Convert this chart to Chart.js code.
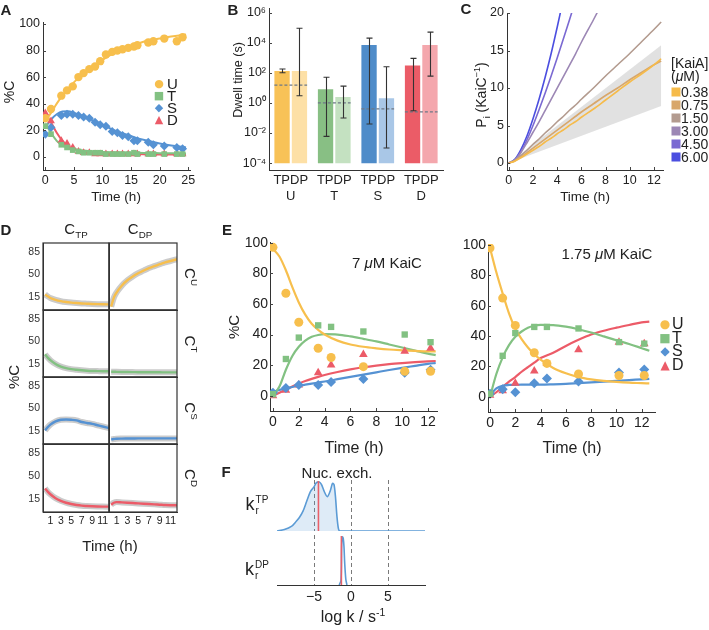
<!DOCTYPE html>
<html>
<head>
<meta charset="utf-8">
<script src="https://cdn.jsdelivr.net/npm/chart.js@4.4.1/dist/chart.umd.min.js"></script>
<style>
body { margin: 0; background: #fff; }
#fig { position: relative; width: 709px; height: 630px; overflow: hidden; font-family: 'Liberation Sans', Arial, sans-serif; color: #222; }
#fig canvas { position: absolute; }
.t { position: absolute; white-space: nowrap; transform: translate(-50%, -50%); line-height: 1; }
.l { position: absolute; white-space: nowrap; transform: translate(0, -50%); line-height: 1; }
.rot { transform: translate(-50%, -50%) rotate(-90deg); }
.rot90 { transform: translate(-50%, -50%) rotate(90deg); }
.pl { font-weight: bold; font-size: 15px; }
sup, sub { font-size: 65%; line-height: 0; }
.ss { display: inline-block; vertical-align: middle; font-size: 10px; line-height: 1.05; margin-left: 1px; }
.ss span { display: block; }
.g { font-family: 'DejaVu Sans', sans-serif; }
</style>
</head>
<body>
<div id="fig"></div>
<script>
// ---------- Panel A: time course (%C) ----------
var timeA = [0, 1, 2.8, 3.8, 4.8, 5.8, 6.7, 7.7, 8.7, 9.6, 10.6, 11.7, 12.6, 13.5, 14.5, 15.5, 16.1, 18, 18.9, 20.8, 23, 24];
var uA = [29, 36, 46, 50, 53, 60, 63, 66, 68, 72, 77, 79, 80, 81, 82, 83, 84, 86, 87, 89, 87, 90];
var tA = [23, 17, 9, 7, 5, 4, 3, 3, 3, 3, 2, 2, 2, 2, 2, 3, 2, 2, 2, 2, 2, 2];
var sA = [17, 22, 31, 32, 32, 31, 30, 29, 26, 24, 23, 19, 18, 16, 15, 12, 12, 11, 9, 8, 7, 6];
var dA = [33, 27, 12, 10, 7, 4, 3, 3, 2, 2, 2, 2, 2, 2, 2, 2, 2, 2, 2, 2, 2, 2];
var fitTimeA = [0, 1, 2, 3, 4, 5, 6, 8, 10, 12, 14, 16, 18, 20, 22, 24.6];
var uFitA = [27, 33, 40, 46, 51, 56, 60, 67, 73, 78, 82, 85, 87.5, 89, 90.5, 92];
var tFitA = [25, 18, 12, 8.5, 6.5, 5.5, 5, 4, 3.5, 3.2, 3, 3, 2.8, 2.7, 2.6, 2.5];
var sFitA = [22, 28, 32, 34, 34.3, 33, 31.5, 28, 24, 20, 17, 14, 12, 10, 8.5, 7];
var dFitA = [33, 26, 18, 12, 8, 6, 4.5, 3, 2.3, 2.1, 2, 2, 1.8, 1.7, 1.6, 1.5];
var xTicksA = [0, 5, 10, 15, 20, 25];
var yTicksA = [0, 20, 40, 60, 80, 100];

// ---------- Panel B: dwell times ----------
var dwellGroups = ['U', 'T', 'S', 'D'];
var dwellTP = [130, 8, 7000, 300];
var dwellDP = [130, 2.5, 2, 7000];
var dwellTPlo = [100, 0.006, 0.04, 0.3];
var dwellTPhi = [180, 50, 20000, 900];
var dwellDPlo = [3, 0.1, 0.001, 60];
var dwellDPhi = [90000, 13, 250, 50000];
var dwellRef = [15, 1, 0.4, 0.25];
var dwellFloor = 1e-4;
var yTicksB = [1e-4, 1e-2, 1, 1e2, 1e4, 1e6];

// ---------- Panel C: Pi release vs KaiA ----------
var kaiALabels = ['0.38', '0.75', '1.50', '3.00', '4.50', '6.00'];
var piTime = [0, 0.5, 1, 1.5, 2, 2.5, 3, 3.5, 4, 4.5, 5, 5.5, 6, 7, 8, 9, 10, 11, 12, 12.6];
var pi038 = [0, 0.25, 0.7, 1.2, 1.7, 2.2, 2.8, 3.3, 3.9, 4.4, 5, 5.5, 6.1, 7.2, 8.4, 9.6, 10.8, 11.9, 13.1, 13.9];
var pi075 = [0, 0.3, 0.8, 1.4, 2, 2.6, 3.2, 3.8, 4.4, 5, 5.6, 6.2, 6.8, 7.9, 9, 10, 11.1, 12.1, 13.1, 13.6];
var pi150 = [0, 0.35, 1, 1.7, 2.5, 3.2, 4, 4.7, 5.5, 6.2, 7, 7.7, 8.5, 10, 11.6, 13.1, 14.6, 16.2, 17.8, 18.8];
var pi300 = [0, 0.4, 1.4, 2.7, 4.1, 5.5, 7, 8.5, 10, 11.5, 13, 14.5, 16.1, 19.1, 22.2, null, null, null, null, null];
var pi450 = [0, 0.4, 1.5, 3.1, 5, 7.1, 9.3, 11.6, 14, 16.5, 19, 21.6, null, null, null, null, null, null, null, null];
var pi600 = [0, 0.5, 1.8, 3.6, 5.9, 8.5, 11.4, 14.6, 18.1, 21.8, null, null, null, null, null, null, null, null, null, null];
var bandTime = [0, 12.6];
var bandHi = [0, 15.7];
var bandLo = [0, 7.6];
var xTicksC = [0, 2, 4, 6, 8, 10, 12];
var yTicksC = [0, 5, 10, 15, 20];

// ---------- Panel D: posterior trajectories per state ----------
var timeD = [0, 0.5, 1, 2, 3, 4, 5, 6, 7, 8, 9, 10, 11, 12.3];
var uTPD = [19, 16, 13.5, 10.5, 8.5, 7.2, 6.3, 5.6, 5, 4.6, 4.2, 3.9, 3.7, 3.5];
var uDPD = [0, 14, 22, 33, 41, 47, 52, 56, 60, 63, 66, 69, 71, 74];
var tTPD = [30, 25, 21, 15, 11, 8.5, 7, 6, 5.2, 4.6, 4.2, 4, 3.8, 3.6];
var tDPD = [3, 3, 2.8, 2.6, 2.5, 2.4, 2.3, 2.2, 2.2, 2.1, 2.1, 2, 2, 2];
var sTPD = [16, 21, 25, 30, 32.5, 33, 32.5, 31.5, 29, 27.5, 26, 24, 22, 19.5];
var sDPD = [2, 2.5, 3, 3.2, 3.3, 3.4, 3.5, 3.5, 3.5, 3.5, 3.5, 3.5, 3.5, 3.5];
var dTPD = [31, 26, 22, 16, 12, 9, 7, 5.5, 4.5, 4, 3.6, 3.3, 3.1, 3];
var dDPD = [6, 9, 10, 9.5, 9, 8.5, 8, 7.5, 7, 6.5, 6, 5.5, 5.2, 5];
var xTicksD = [1, 3, 5, 7, 9, 11];
var yTicksD = [15, 50, 85];

// ---------- Panel E: KaiC concentration ----------
var timeE = [0, 1, 2, 3.5, 4.5, 7, 10.2, 12.2];
var u7 = [97, 67, 48, 31, 25, 19, 16, 16];
var t7 = [1, 24, 38, 46, 45, 42, 40, 35];
var s7 = [2, 5, 7, 7, 9, 11, 15, 17];
var d7 = [0, 3.5, 7, 15, 20, 27, 29, 31];
var u175 = [98, 65, 47, 29, 22, 15, 14, 14];
var t175 = [2, 27, 42, 46, 46, 45, 36, 35];
var s175 = [2, 5, 3, 9, 12, 10, 16, 18];
var d175 = [1, 4, 9, 17, 22, 31, 36, 35];
var fitTimeE = [0, 0.5, 1, 1.5, 2, 2.5, 3, 3.5, 4, 5, 6, 7, 8, 9, 10, 11, 12, 12.6];
var uFit7 = [96, 91, 82, 71, 61, 53, 47, 43, 40, 36, 33.5, 32, 31, 30.2, 29.7, 29.3, 29, 29];
var tFit7 = [0, 6, 17, 26, 32, 36, 38.5, 39.7, 40.2, 40, 38.8, 37.2, 35.5, 33.5, 31.5, 29.5, 27.5, 26.5];
var sFit7 = [2.5, 3.8, 4.8, 5.7, 6.5, 7.2, 7.9, 8.6, 9.3, 10.8, 12.3, 13.8, 15.3, 16.8, 18.2, 19.5, 20.8, 21.4];
var dFit7 = [0, 2, 4, 6, 8, 9.6, 11, 12.3, 13.5, 15.5, 17.2, 18.6, 19.7, 20.6, 21.3, 21.9, 22.4, 22.7];
var uFit175 = [98, 82, 68, 55, 45, 38, 32.5, 28, 24.5, 19, 15.5, 13, 11.5, 10.5, 9.8, 9.3, 9, 8.8];
var tFit175 = [0, 15, 26, 34, 39.5, 43, 45.5, 46.8, 47.3, 47.2, 46.2, 44.5, 42.3, 39.8, 37.2, 34.8, 32, 30.3];
var sFit175 = [1, 5.5, 7.3, 7.8, 7.9, 8, 8, 8, 8, 8.2, 8.5, 9, 9.5, 10, 10.5, 11, 11.5, 11.8];
var dFit175 = [0, 3, 6.5, 10, 13, 16.5, 19.5, 22.5, 25.5, 29, 33.5, 37.5, 41, 43.5, 45.5, 47.3, 49, 49.5];
var xTicksE = [0, 2, 4, 6, 8, 10, 12];
var yTicksE = [0, 20, 40, 60, 80, 100];

// ---------- Panel F: rate posteriors ----------
var logkTP = [-10, -9, -8, -7.5, -7, -6.5, -6, -5.5, -5, -4.7, -4.3, -4, -3.6, -3.2, -2.8, -2.5, -2.3, -2.1, -1.9, -1.7, -1.5, 10];
var densTP = [0, 0.03, 0.1, 0.18, 0.27, 0.4, 0.6, 0.8, 0.9, 0.98, 1, 0.95, 0.8, 0.7, 0.82, 0.97, 0.95, 0.7, 0.3, 0.05, 0, 0];
var logkDP = [-1.6, -1.35, -1.25, -1.15, -1.05, -0.95, -0.85, -0.7, -0.55];
var densDP = [0, 0.1, 0.85, 1, 0.97, 0.8, 0.45, 0.12, 0];
var bestTP = -4.4;
var bestDP = -1.3;
var guideLogk = [-5, 0, 5];
var xTicksF = [-5, 0, 5];

var COL = { U: '#f7bf4d', T: '#82c182', S: '#5592d3', D: '#ec5b68' };

Chart.defaults.font.family = "'Liberation Sans', Arial, sans-serif";
Chart.defaults.color = '#222';

// small inward tick marks, Mathematica style
Chart.register({
    id: 'inTicks',
    defaults: { len: 0 },
    afterDraw: function (chart, args, opts) {
        if (!opts.len) return;
        var ctx = chart.ctx;
        ctx.save();
        ctx.strokeStyle = '#444';
        ctx.lineWidth = 1;
        ['x', 'y'].forEach(function (id) {
            var s = chart.scales[id];
            if (!s || !s.options.display || s.type === 'category') return;
            s.ticks.forEach(function (t) {
                var p = Math.round(s.getPixelForValue(t.value)) + 0.5;
                ctx.beginPath();
                if (s.isHorizontal()) { ctx.moveTo(p, s.top); ctx.lineTo(p, s.top - opts.len); }
                else { ctx.moveTo(s.right, p); ctx.lineTo(s.right + opts.len, p); }
                ctx.stroke();
            });
        });
        ctx.restore();
    }
});

var fig = document.getElementById('fig');

function canvasAt(left, top, w, h) {
    var c = document.createElement('canvas');
    c.width = w; c.height = h;
    c.style.left = left + 'px'; c.style.top = top + 'px';
    c.style.width = w + 'px'; c.style.height = h + 'px';
    fig.appendChild(c);
    return c;
}

function text(html, x, y, cls, css) {
    var d = document.createElement('div');
    d.className = cls || 't';
    d.innerHTML = html;
    d.style.left = x + 'px';
    d.style.top = y + 'px';
    if (css) d.style.cssText += css;
    fig.appendChild(d);
}

function xy(xs, ys) {
    return xs.map(function (x, i) { return { x: x, y: ys[i] }; });
}

function axis(min, max, ticks, size, o) {
    o = o || {};
    var a = {
        type: o.type || 'linear', min: min, max: max,
        afterBuildTicks: function (s) { s.ticks = ticks.map(function (v) { return { value: v }; }); },
        afterFit: function (s) { if (s.isHorizontal()) s.height = size; else s.width = size; },
        grid: { display: false, drawTicks: false },
        border: { color: '#333', width: 1 },
        ticks: { font: { size: o.font || 14 }, padding: o.pad || 3, color: o.color || '#222', autoSkip: false, maxRotation: 0 }
    };
    if (o.cb) a.ticks.callback = o.cb;
    return a;
}

function opts(padding, scales, tickLen) {
    return {
        responsive: false, animation: false, devicePixelRatio: 1,
        layout: { padding: padding },
        plugins: { legend: { display: false }, tooltip: { enabled: false }, inTicks: { len: tickLen || 0 } },
        scales: scales
    };
}

function pts(xs, ys, color, style, r) {
    return { data: xy(xs, ys), showLine: false, pointStyle: style, pointRadius: r || 4, pointBorderWidth: 0,
        backgroundColor: color, borderColor: color, order: 0 };
}

function fit(xs, ys, color, w) {
    return { data: xy(xs, ys), borderColor: color, borderWidth: w || 2, pointRadius: 0, fill: false,
        cubicInterpolationMode: 'monotone', order: 1 };
}

// ================= A =================
new Chart(canvasAt(0, 0, 200, 205), {
    type: 'line',
    data: { datasets: [
        pts(timeA, uA, COL.U, 'circle', 4.2), pts(timeA, tA, COL.T, 'rect', 4), pts(timeA, sA, COL.S, 'rectRot', 4.5), pts(timeA, dA, COL.D, 'triangle', 4.5),
        fit(fitTimeA, uFitA, COL.U), fit(fitTimeA, tFitA, COL.T), fit(fitTimeA, sFitA, COL.S), fit(fitTimeA, dFitA, COL.D)
    ] },
    options: opts({ top: 22, right: 10, left: 0, bottom: 0 }, {
        x: axis(-0.4, 25.3, xTicksA, 35, { font: 12.5 }),
        y: axis(-10, 101.5, yTicksA, 43, { font: 12.5 })
    }, 3)
});
text('A', 6, 9, 't pl');
text('%C', 9, 92, 't rot', 'font-size:14px');
text('Time (h)', 116, 197, 't', 'font-size:13.5px');
var legA = [['●', COL.U, 'U'], ['■', COL.T, 'T'], ['◆', COL.S, 'S'], ['▲', COL.D, 'D']];
legA.forEach(function (r, i) {
    text(r[0], 159, 83 + i * 12, 't g', 'font-size:11px;color:' + r[1]);
    text(r[2], 167, 83 + i * 12, 'l', 'font-size:15px');
});

// ================= B =================
var supMap = { '-': '\u207B', '0': '\u2070', '1': '\u00B9', '2': '\u00B2', '3': '\u00B3', '4': '\u2074', '6': '\u2076' };
function supNum(n) { return String(n).split('').map(function (ch) { return supMap[ch]; }).join(''); }

new Chart(canvasAt(230, -10, 230, 215), {
    type: 'bar',
    data: {
        labels: dwellGroups,
        datasets: [
            { data: dwellTP.map(function (v) { return [dwellFloor, v]; }), backgroundColor: ['#f8c257', '#88bf84', '#4f8cc9', '#eb5c67'],
              categoryPercentage: 0.8, barPercentage: 0.88, borderSkipped: false },
            { data: dwellDP.map(function (v) { return [dwellFloor, v]; }), backgroundColor: ['#fde0a6', '#c4e1c1', '#a9c7e7', '#f4a7ad'],
              categoryPercentage: 0.8, barPercentage: 0.88, borderSkipped: false }
        ]
    },
    options: opts({ top: 18, right: 17, left: 0, bottom: 0 }, {
        x: {
            type: 'category',
            afterFit: function (s) { s.height = 35; },
            grid: { display: false, drawTicks: false },
            border: { color: '#333', width: 1 },
            ticks: { font: { size: 13 }, padding: 3, color: '#222', autoSkip: false, maxRotation: 0,
                callback: function (v, i) { return ['TPDP', dwellGroups[i]]; } }
        },
        y: axis(3.5e-5, 2e6, yTicksB, 39, { type: 'logarithmic', font: 12.5, cb: function (v) { return '10' + supNum(Math.round(Math.log10(v))); } })
    }, 3),
    plugins: [{
        id: 'dwellMarks',
        afterDatasetsDraw: function (chart) {
            var ctx = chart.ctx, y = chart.scales.y;
            var m0 = chart.getDatasetMeta(0).data, m1 = chart.getDatasetMeta(1).data;
            ctx.save();
            ctx.strokeStyle = '#6d7886';
            ctx.lineWidth = 1.2;
            ctx.setLineDash([3, 2]);
            dwellRef.forEach(function (v, i) {
                var yy = y.getPixelForValue(v);
                ctx.beginPath();
                ctx.moveTo(m0[i].x - m0[i].width / 2, yy);
                ctx.lineTo(m1[i].x + m1[i].width / 2, yy);
                ctx.stroke();
            });
            ctx.setLineDash([]);
            ctx.strokeStyle = '#333';
            ctx.lineWidth = 1.1;
            function whisker(el, lo, hi) {
                var x = Math.round(el.x) + 0.5, a = y.getPixelForValue(lo), b = y.getPixelForValue(hi);
                ctx.beginPath();
                ctx.moveTo(x, a); ctx.lineTo(x, b);
                ctx.moveTo(x - 3, a); ctx.lineTo(x + 3, a);
                ctx.moveTo(x - 3, b); ctx.lineTo(x + 3, b);
                ctx.stroke();
            }
            for (var i = 0; i < dwellGroups.length; i++) {
                whisker(m0[i], dwellTPlo[i], dwellTPhi[i]);
                whisker(m1[i], dwellDPlo[i], dwellDPhi[i]);
            }
            ctx.restore();
        }
    }]
});
text('B', 233, 9, 't pl');
text('Dwell time (s)', 238, 80, 't rot', 'font-size:12.5px');

// ================= C =================
var kaiAColors = ['#f6bb4a', '#d8a76b', '#b39b8f', '#9c87b5', '#7a69d2', '#4b4ee0'];
var piSeries = [pi038, pi075, pi150, pi300, pi450, pi600];
var cSets = [
    { data: xy(bandTime, bandHi), borderWidth: 0, pointRadius: 0, fill: '+1', backgroundColor: 'rgba(200,200,200,0.55)', order: 5 },
    { data: xy(bandTime, bandLo), borderWidth: 0, pointRadius: 0, fill: false, order: 5 }
];
piSeries.forEach(function (s, i) {
    cSets.push({ data: xy(piTime, s), borderColor: kaiAColors[i], borderWidth: 1.6, pointRadius: 0, fill: false,
        cubicInterpolationMode: 'monotone', spanGaps: false, order: 1 });
});
new Chart(canvasAt(460, 0, 249, 205), {
    type: 'line',
    data: { datasets: cSets },
    options: opts({ top: 13, right: 46, left: 0, bottom: 0 }, {
        x: axis(-0.15, 12.75, xTicksC, 35, { font: 12.5 }),
        y: axis(-0.93, 20, yTicksC, 47, { font: 12.5 })
    }, 3)
});
text('C', 466, 8, 't pl');
text('P<sub>i</sub> (KaiC<sup>\u22121</sup>)', 481, 95, 't rot', 'font-size:14px');
text('Time (h)', 585, 197, 't', 'font-size:13.5px');
text('[KaiA]', 671, 63, 'l', 'font-size:14px');
text('(<i>\u03bc</i>M)', 671, 76, 'l', 'font-size:14px');
kaiALabels.forEach(function (lab, i) {
    var yy = 92 + i * 13;
    text('', 676, yy, 't', 'width:9px;height:9px;background:' + kaiAColors[i]);
    text(lab, 681, yy, 'l', 'font-size:14px');
});

// ================= D =================
var colL = [43, 109], colR = [109, 177];
var rowT = [243, 310, 377, 444], rowB = [310, 377, 444, 512];
var dRows = [[uTPD, uDPD, COL.U], [tTPD, tDPD, COL.T], [sTPD, sDPD, COL.S], [dTPD, dDPD, COL.D]];
var rowNames = ['U', 'T', 'S', 'D'];
var boxPlugin = {
    id: 'box',
    afterDraw: function (chart) {
        var a = chart.chartArea, ctx = chart.ctx;
        ctx.save();
        ctx.strokeStyle = '#333';
        ctx.lineWidth = 1.2;
        ctx.strokeRect(a.left, a.top, a.right - a.left, a.bottom - a.top);
        ctx.restore();
    }
};
dRows.forEach(function (row, r) {
    [0, 1].forEach(function (c) {
        var w = colR[c] - colL[c];
        var h = rowB[r] - rowT[r];
        var showY = c === 0, showX = r === 3;
        new Chart(canvasAt(colL[c] - 30, rowT[r] - 10, w + 33, h + 28), {
            type: 'line',
            data: { datasets: [
                { data: xy(timeD, row[c]), borderColor: row[2], borderWidth: 2.4, pointRadius: 0, fill: false, cubicInterpolationMode: 'monotone', order: 0 },
                { data: xy(timeD, row[c]), borderColor: 'rgba(140,140,140,0.45)', borderWidth: 6, pointRadius: 0, fill: false, cubicInterpolationMode: 'monotone', order: 1 }
            ] },
            options: opts({ top: 10, right: 3, left: 0, bottom: 0 }, {
                x: axis(-0.4, 12.2, xTicksD, 18, { font: 10.5, color: showX ? '#222' : 'rgba(0,0,0,0)', pad: 3 }),
                y: axis(-5.2, 99, yTicksD, 30, { font: 10.5, color: showY ? '#333' : 'rgba(0,0,0,0)', pad: 3 })
            }, 0),
            plugins: [boxPlugin]
        });
    });
    text('C<sup>' + rowNames[r] + '</sup>', 190, (rowT[r] + rowB[r]) / 2, 't rot90', 'font-size:15px');
});
text('D', 6, 229, 't pl');
text('C<sub>TP</sub>', 76, 228, 't', 'font-size:15px');
text('C<sub>DP</sub>', 140, 228, 't', 'font-size:15px');
text('%C', 13, 377, 't rot', 'font-size:15px');
text('Time (h)', 110, 545, 't', 'font-size:15px');

// ================= E =================
function eSets(u, t, s, d, uf, tf, sf, df) {
    return [
        pts(timeE, u, COL.U, 'circle', 4.5), pts(timeE, t, COL.T, 'rect', 4.5), pts(timeE, s, COL.S, 'rectRot', 5), pts(timeE, d, COL.D, 'triangle', 5),
        fit(fitTimeE, uf, COL.U, 2.2), fit(fitTimeE, tf, COL.T, 2.2), fit(fitTimeE, sf, COL.S, 2.2), fit(fitTimeE, df, COL.D, 2.2)
    ];
}
new Chart(canvasAt(200, 230, 250, 220), {
    type: 'line',
    data: { datasets: eSets(u7, t7, s7, d7, uFit7, tFit7, sFit7, dFit7) },
    options: opts({ top: 12, right: 13, left: 0, bottom: 0 }, {
        x: axis(-0.23, 12.7, xTicksE, 39),
        y: axis(-10, 100.5, yTicksE, 70, { pad: 2 })
    }, 3)
});
new Chart(canvasAt(450, 230, 259, 220), {
    type: 'line',
    data: { datasets: eSets(u175, t175, s175, d175, uFit175, tFit175, sFit175, dFit175) },
    options: opts({ top: 14, right: 54, left: 0, bottom: 0 }, {
        x: axis(-0.16, 13.05, xTicksE, 38),
        y: axis(-10, 100.6, yTicksE, 38, { pad: 2 })
    }, 3)
});
text('E', 227, 229, 't pl');
text('%C', 233, 327, 't rot', 'font-size:15px');
text('7 <i>\u03bc</i>M KaiC', 387, 262, 't', 'font-size:15px');
text('1.75 <i>\u03bc</i>M KaiC', 607, 253, 't', 'font-size:15px');
text('Time (h)', 354, 448, 't', 'font-size:16px');
text('Time (h)', 572, 448, 't', 'font-size:16px');
legA.forEach(function (r, i) {
    text(r[0], 665, 324 + i * 13.5, 't g', 'font-size:12px;color:' + r[1]);
    text(r[2], 672, 324 + i * 13.5, 'l', 'font-size:16px');
});

// ================= F =================
function guides(best) {
    return {
        id: 'guides',
        beforeDatasetsDraw: function (chart) {
            var ctx = chart.ctx, a = chart.chartArea, x = chart.scales.x;
            ctx.save();
            ctx.strokeStyle = '#7a7a7a';
            ctx.lineWidth = 1;
            ctx.setLineDash([4, 3]);
            guideLogk.forEach(function (v) {
                var p = Math.round(x.getPixelForValue(v)) + 0.5;
                ctx.beginPath(); ctx.moveTo(p, a.top); ctx.lineTo(p, a.bottom); ctx.stroke();
            });
            ctx.restore();
        },
        afterDatasetsDraw: function (chart) {
            var ctx = chart.ctx, a = chart.chartArea, x = chart.scales.x;
            var p = x.getPixelForValue(best);
            ctx.save();
            ctx.strokeStyle = '#e8606a';
            ctx.lineWidth = 1.6;
            ctx.beginPath(); ctx.moveTo(p, a.top + 1); ctx.lineTo(p, a.bottom); ctx.stroke();
            ctx.restore();
        }
    };
}
new Chart(canvasAt(277, 478, 148, 55), {
    type: 'line',
    data: { datasets: [{ data: xy(logkTP, densTP), borderColor: '#5b9bd5', borderWidth: 1.6, pointRadius: 0,
        fill: 'origin', backgroundColor: 'rgba(91,155,213,0.2)', tension: 0.3 }] },
    options: opts({ top: 2, right: 0, left: 0, bottom: 2 }, {
        x: { type: 'linear', min: -10, max: 10, display: false },
        y: { type: 'linear', min: 0, max: 1.04, display: false }
    }, 0),
    plugins: [guides(bestTP)]
});
new Chart(canvasAt(262, 533, 178, 75), {
    type: 'line',
    data: { datasets: [{ data: xy(logkDP, densDP), borderColor: '#5b9bd5', borderWidth: 1.6, pointRadius: 0, fill: false, tension: 0.3 }] },
    options: opts({ top: 2, right: 15, left: 15, bottom: 0 }, {
        x: axis(-10, 10, xTicksF, 23, { font: 14, pad: 4, cb: function (v) { return v < 0 ? '\u2212' + (-v) : String(v); } }),
        y: { type: 'linear', min: 0, max: 1.04, display: false }
    }, 0),
    plugins: [guides(bestDP)]
});
text('F', 226, 471, 't pl');
text('Nuc. exch.', 337, 472, 't', 'font-size:15px');
text('k<span class="ss"><span>TP</span><span>r</span></span>', 257, 505, 't', 'font-size:18px');
text('k<span class="ss"><span>DP</span><span>r</span></span>', 257, 570, 't', 'font-size:18px');
text('log k / s<sup>-1</sup>', 353, 617, 't', 'font-size:16px');
</script>
</body>
</html>
